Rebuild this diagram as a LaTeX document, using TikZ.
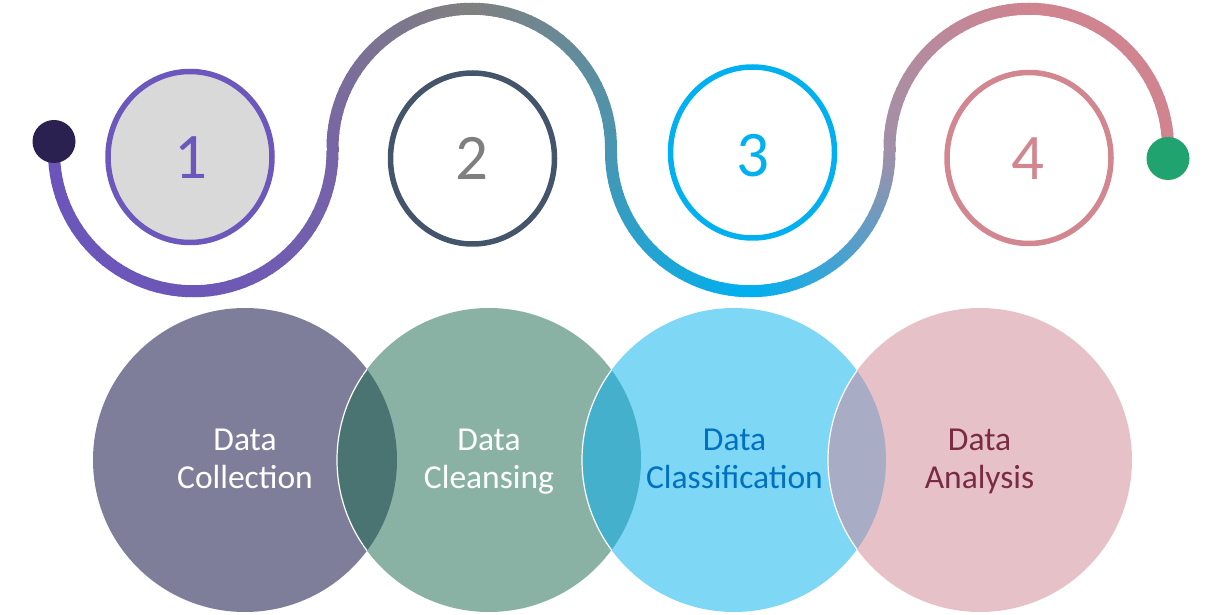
\documentclass[tikz,border=0pt]{standalone}
\usepackage{fontspec}
\setmainfont{Carlito}
\usetikzlibrary{shapes.geometric}

% wave colours, start to end
\definecolor{wvA}{HTML}{6B55BB}
\definecolor{wvB}{HTML}{6C57B8}
\definecolor{wvC}{HTML}{7765A6}
\definecolor{wvD}{HTML}{808080}
\definecolor{wvE}{HTML}{4896B2}
\definecolor{wvF}{HTML}{00B0F0}
\definecolor{wvG}{HTML}{A090A8}
\definecolor{wvH}{HTML}{CF8490}
% rings and digits
\definecolor{ringA}{HTML}{6C57BC}
\definecolor{ringB}{HTML}{44546A}
\definecolor{ringC}{HTML}{00B0F0}
\definecolor{ringD}{HTML}{D2868F}
\definecolor{digB}{HTML}{7F7F7F}
\definecolor{ringfill}{HTML}{D9D9D9}
\definecolor{dotL}{HTML}{2B2150}
\definecolor{dotR}{HTML}{20A36E}
% step discs
\definecolor{discA}{HTML}{7F7E9A}
\definecolor{discB}{HTML}{8AB2A4}
\definecolor{discC}{HTML}{7FD7F6}
\definecolor{discD}{HTML}{E6C1C8}
\definecolor{lensAB}{HTML}{4A7471}
\definecolor{lensBC}{HTML}{44B0CC}
\definecolor{lensCD}{HTML}{A8ADC5}
\definecolor{txtC}{HTML}{0070C0}
\definecolor{txtD}{HTML}{7B2A44}

% half circle of the wave, coloured in 60 short pieces
% #1,#2 centre; #3 start angle; #4 direction (+1/-1); #5,#6,#7 colours at start, middle, end
\newcommand{\wavearc}[7]{%
  \foreach \i in {0,...,59}{%
    \pgfmathsetmacro{\aa}{#3+(#4)*3*\i}%
    \pgfmathsetmacro{\bb}{#3+(#4)*(3*\i+3.6)}%
    \ifnum\i<30
      \pgfmathtruncatemacro{\pp}{round(100*(\i+0.5)/30)}%
      \colorlet{segc}{#6!\pp!#5}%
    \else
      \pgfmathtruncatemacro{\pp}{round(100*(\i-29.5)/30)}%
      \colorlet{segc}{#7!\pp!#6}%
    \fi
    \draw[wave, segc] ([shift={(\aa:139.25)}]#1,#2) arc[start angle=\aa, end angle=\bb, radius=139.25];
  }%
}

\tikzset{
  wave/.style={line width=12pt, line cap=butt},
  ring/.style={ellipse, draw, line width=5.5pt, minimum width=164pt, minimum height=171pt, inner sep=0pt},
  digit/.style={anchor=base, inner sep=0pt, font=\fontsize{65}{65}\selectfont},
  enddot/.style={circle, minimum size=43pt, inner sep=0pt},
  disc/.style={circle, minimum size=304pt, inner sep=0pt},
  steplabel/.style={anchor=south, inner sep=0pt, text depth=0pt, align=center, font=\fontsize{33.5}{38}\selectfont}
}

\begin{document}
\begin{tikzpicture}[x=1pt, y=1pt]
\useasboundingbox (0,0) rectangle (1224,614);

% ---- numbered rings ----
\node[ring, draw=ringA, fill=ringfill] (r1) at (190,457) {};
\node[ring, draw=ringB] (r2) at (472.5,455.5) {};
\node[ring, draw=ringC] (r3) at (752.5,461.5) {};
\node[ring, draw=ringD] (r4) at (1029,456) {};
\node[digit, text=ringA] (n1) at (190.5,435) {1};
\node[digit, text=digB]  (n2) at (472,434) {2};
\node[digit, text=ringC] (n3) at (753,437) {3};
\node[digit, text=ringD] (n4) at (1028,434) {4};

% ---- winding line ----
\coordinate (dLc) at (54,472.5);
\coordinate (dRc) at (1168,455.5);
\coordinate (wstart) at (54,462);
\coordinate (wend) at (1168,466);
\draw[wave, wvA] (dLc) -- (wstart);
\wavearc{193.25}{462}{180}{1}{wvA}{wvB}{wvC}
\draw[wave, wvC] (332.5,461.5) -- (332.5,466.5);
\wavearc{471.75}{466}{180}{-1}{wvC}{wvD}{wvE}
\draw[wave, wvE] (611,461.5) -- (611,466.5);
\wavearc{750.25}{462}{180}{1}{wvE}{wvF}{wvG}
\draw[wave, wvG] (889.5,461.5) -- (889.5,466.5);
\wavearc{1028.75}{466}{180}{-1}{wvG}{wvH}{wvH}
\draw[wave, wvH] (wend) -- (dRc);

\node[enddot, fill=dotL] (dL) at (dLc) {};
\node[enddot, fill=dotR] (dR) at (dRc) {};

% ---- overlapping step discs ----
\node[disc, fill=discA] (cA) at (245,154) {};
\node[disc, fill=discB] (cB) at (489,154) {};
\node[disc, fill=discC] (cC) at (734,154) {};
\node[disc, fill=discD] (cD) at (980,154) {};

\begin{scope}
  \clip (cA.center) circle (152);
  \fill[lensAB] (cB.center) circle (152);
  \draw[white, line width=1.2pt] (cB.center) circle (152);
\end{scope}
\begin{scope}
  \clip (cB.center) circle (152);
  \fill[lensBC] (cC.center) circle (152);
  \draw[white, line width=1.2pt] (cC.center) circle (152);
\end{scope}
\begin{scope}
  \clip (cC.center) circle (152);
  \fill[lensCD] (cD.center) circle (152);
  \draw[white, line width=1.2pt] (cD.center) circle (152);
\end{scope}

\node[steplabel, text=white] (tA) at (245,125) {Data\\Collection};
\node[steplabel, text=white] (tB) at (489,125) {Data\\Cleansing};
\node[steplabel, text=txtC]  (tC) at (734.5,125) {Data\\Classification};
\node[steplabel, text=txtD]  (tD) at (979.5,125) {Data\\Analysis};
\end{tikzpicture}
\end{document}
